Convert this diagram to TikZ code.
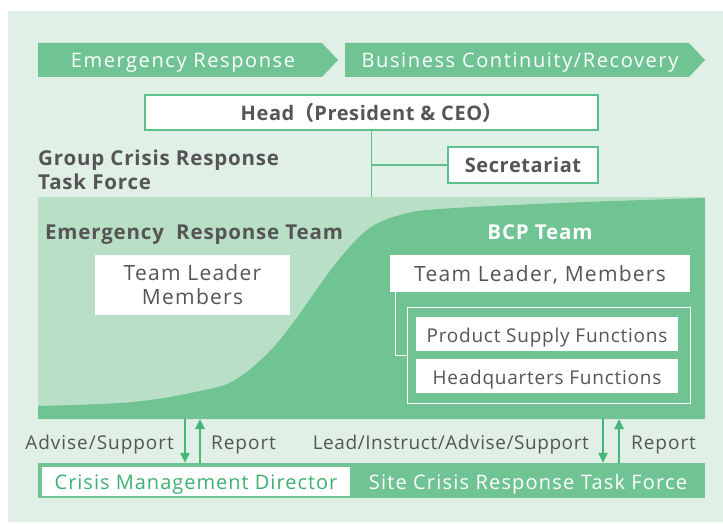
\documentclass[tikz,border=0pt]{standalone}
\usepackage{fontspec}
\setmainfont{Open Sans}[LetterSpace=5]
\newfontfamily\cjk{Noto Sans CJK JP}
\usetikzlibrary{positioning, arrows.meta}
\definecolor{pale}{HTML}{E1F0E6}
\definecolor{mid}{HTML}{B9E0C6}
\definecolor{dark}{HTML}{70C494}
\definecolor{line}{HTML}{5DBF8A}
\definecolor{arrowg}{HTML}{45B878}
\definecolor{txt}{HTML}{555555}
\definecolor{cmdg}{HTML}{3DB170}
\newcommand{\tracking}[1]{\addfontfeatures{LetterSpace=#1}}
\begin{document}
\begin{tikzpicture}[x=1pt, y=-1pt,
    low/.style={text height=18pt, text depth=2pt},
    phase/.style={low, text=white, inner sep=0pt, font=\fontsize{20}{22}\selectfont\tracking{8}},
    wbox/.style={fill=white, inner sep=0pt, text=txt, align=center},
    hbox/.style={wbox, draw=line, line width=1.2pt, font=\bfseries\fontsize{20}{22}\selectfont\tracking{3}},
    tbox/.style={wbox, font=\fontsize{21}{24}\selectfont\tracking{6}},
    fbox/.style={wbox, low, minimum width=262pt, minimum height=34pt, font=\fontsize{19}{20}\selectfont\tracking{4}},
    title/.style={text=txt, inner sep=0pt, align=left, font=\bfseries\fontsize{20.5}{24}\selectfont\tracking{4}},
    lbl/.style={low, text=txt, inner sep=0pt, font=\fontsize{19}{20}\selectfont},
    flow/.style={-{Triangle[length=10pt,width=9pt]}, draw=arrowg, line width=2.4pt},
    link/.style={draw=line, line width=1.2pt},
    wlink/.style={draw=white, line width=0.8pt}
]
\useasboundingbox (0,0) rectangle (723,524);
\fill[white] (0,0) rectangle (723,524);
\fill[pale] (8,11) rectangle (723,522);

% phase arrows
\fill[dark] (38,43) -- (322,43) -- (338,60) -- (322,77) -- (38,77) -- cycle;
\fill[dark] (345,43) -- (689,43) -- (705,60) -- (689,77) -- (345,77) -- cycle;
\node[phase] (er) at (183,60) {Emergency Response};
\node[phase] (bc) at (520,60) {Business Continuity/Recovery};

% task force area
\fill[mid] (38,197) rectangle (705,419);
\fill[dark] plot[smooth, tension=0.6] coordinates {(38,406) (133,402) (200,391) (233,381) (265,356) (293,323) (333,267) (367,230) (400,215) (440,209) (560,203) (705,198)}
    -- (705,419) -- (38,419) -- cycle;

% head and secretariat
\node[hbox, minimum width=453pt, minimum height=35pt] (head) at (371.5,112.5) {Head{\cjk （}President \& CEO{\cjk ）}};
\node[hbox, minimum width=150pt, minimum height=36pt] (sec) at (523,165) {Secretariat};
\coordinate (top) at (371.5,197);
\draw[link] (head.south) -- (top);
\draw[link] (head.south |- sec.west) -- (sec.west);
\node[title, anchor=north west] (gcr) at (38,150) {Group Crisis Response\\Task Force};

% teams
\node[title, anchor=west] (ert) at (45,235) {Emergency\ \ Response Team};
\node[title, text=white] (bcp) at (540,232.5) {BCP Team};
\node[tbox, minimum width=195pt, minimum height=60pt] (ertl) at (192.5,285) {Team Leader\\Members};
\node[tbox, low, minimum width=300pt, minimum height=37pt] (bcpl) at (540,273.5) {Team Leader, Members};
\node[draw=white, line width=0.8pt, minimum width=283pt, minimum height=96pt, inner sep=0pt] (frame) at (548.5,355) {};
\node[fbox] (psf) at (547,334) {Product Supply Functions};
\node[fbox] (hqf) at (547,376) {Headquarters Functions};
\draw[wlink] ([xshift=6pt]bcpl.south west) |- (frame.west);

% site level
\node[fill=dark, minimum width=667pt, minimum height=35pt, inner sep=0pt] (bar) at (371.5,480.5) {};
\node[fill=white, low, text=cmdg, minimum width=308pt, minimum height=29pt, inner sep=0pt, font=\fontsize{20}{22}\selectfont] (cmd) at (196,481.5) {Crisis Management Director};
\node[phase, font=\fontsize{20}{22}\selectfont\tracking{6}] (site) at (528,481.5) {Site Crisis Response Task Force};

\coordinate (d1) at (185,419);
\coordinate (u1) at (200,419);
\coordinate (d2) at (603,419);
\coordinate (u2) at (619,419);
\draw[flow] (d1) -- (d1 |- bar.north);
\draw[flow] (u1 |- bar.north) -- (u1);
\draw[flow] (d2) -- (d2 |- bar.north);
\draw[flow] (u2 |- bar.north) -- (u2);
\node[lbl, anchor=east] (adv1) at (174,441) {Advise/Support};
\node[lbl, anchor=west] (rep1) at (211,441) {Report};
\node[lbl, anchor=east, font=\fontsize{19}{20}\selectfont\tracking{3}] (adv2) at (589,441) {Lead/Instruct/Advise/Support};
\node[lbl, anchor=west] (rep2) at (631,441) {Report};
\end{tikzpicture}
\end{document}
